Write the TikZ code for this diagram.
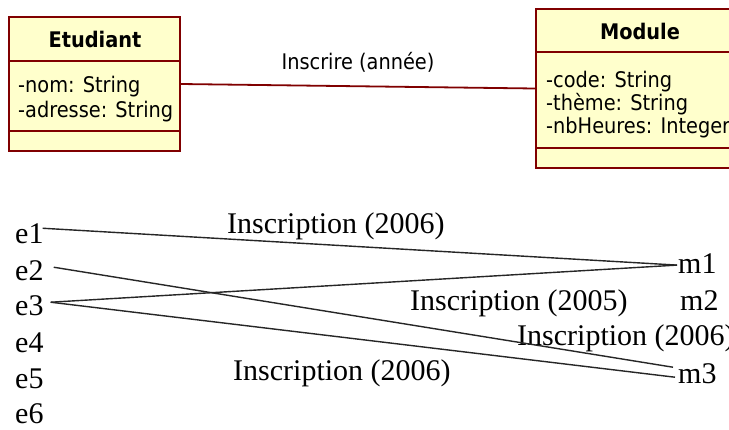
\documentclass[tikz,border=0pt]{standalone}
\usepackage{fontspec}
\setmainfont{Liberation Serif}
\newfontfamily\umlfont{DejaVu Sans Condensed}
\definecolor{umlred}{RGB}{128,0,0}
\definecolor{umlfill}{RGB}{255,255,204}
\tikzset{
  classbox/.style={draw=umlred, fill=umlfill, line width=1.8pt, inner sep=0},
  umlline/.style={umlred, line width=1.8pt},
  umltext/.style={font=\umlfont\fontsize{21.5}{24}\selectfont, inner sep=0, text=black},
  umltitle/.style={inner sep=0, font=\umlfont\bfseries\fontsize{21.5}{24}\selectfont},
  scantext/.style={font=\fontsize{30}{34}\selectfont, inner sep=0, anchor=base west},
  link/.style={line width=1.4pt, black!85},
}
\begin{document}
\begin{tikzpicture}[x=1pt, y=-1pt]
    \clip (0,0) rectangle (729,429);
    \fill[white] (0,0) rectangle (729,429);
    % class diagram
    \node[classbox, minimum width=171pt, minimum height=134pt] (etud) at (94.5,84) {};
    \draw[umlline] (etud.west |- 0,61) -- (etud.east |- 0,61);
    \draw[umlline] (etud.west |- 0,131) -- (etud.east |- 0,131);
    \node[umltitle] (etudname) at (95,39.5) {Etudiant};
    \node[umltext, anchor=base west] (etudnom) at (18,92) {-nom: String};
    \node[umltext, anchor=base west] (etudadr) at (18,117) {-adresse: String};
    \node[classbox, minimum width=208pt, minimum height=159pt] (mod) at (640,88.5) {};
    \draw[umlline] (mod.west |- 0,52) -- (mod.east |- 0,52);
    \draw[umlline] (mod.west |- 0,148) -- (mod.east |- 0,148);
    \node[umltitle] (modname) at (640,31) {Module};
    \node[umltext, anchor=base west] (modcode) at (546,87) {-code: String};
    \node[umltext, anchor=base west] (modtheme) at (546,110) {-thème: String};
    \node[umltext, anchor=base west] (modheures) at (546,133) {-nbHeures: Integer};
    \draw[umlline] (etud.east) -- node[umltext, above=13pt] (assoc) {Inscrire (année)} (mod.west);
    % instances
    \foreach \i/\y in {1/243, 2/280, 3/315, 4/352, 5/388, 6/423}
        \node[scantext] (e\i) at (15,\y) {e\i};
    \node[scantext] (m1) at (678,273) {m1};
    \node[scantext] (m2) at (680,310) {m2};
    \node[scantext] (m3) at (678,383) {m3};
    \node[scantext] (lab1) at (227,233) {Inscription (2006)};
    \node[scantext] (lab2) at (410,310) {Inscription (2005)};
    \node[scantext] (lab3) at (517,345) {Inscription (2006)};
    \node[scantext] (lab4) at (233,380) {Inscription (2006)};
    \draw[link] ([xshift=-1pt, yshift=5pt]e1.east) -- ([xshift=-1pt, yshift=-2pt]m1.west);
    \draw[link] ([xshift=7pt, yshift=3pt]e3.east) -- ([xshift=-1pt, yshift=-2pt]m1.west);
    \draw[link] ([xshift=10pt, yshift=3pt]e2.east) -- ([xshift=-5pt, yshift=6pt]m3.west);
    \draw[link] ([xshift=7pt, yshift=3pt]e3.east) -- ([xshift=-3pt, yshift=-4pt]m3.west);
\end{tikzpicture}
\end{document}
